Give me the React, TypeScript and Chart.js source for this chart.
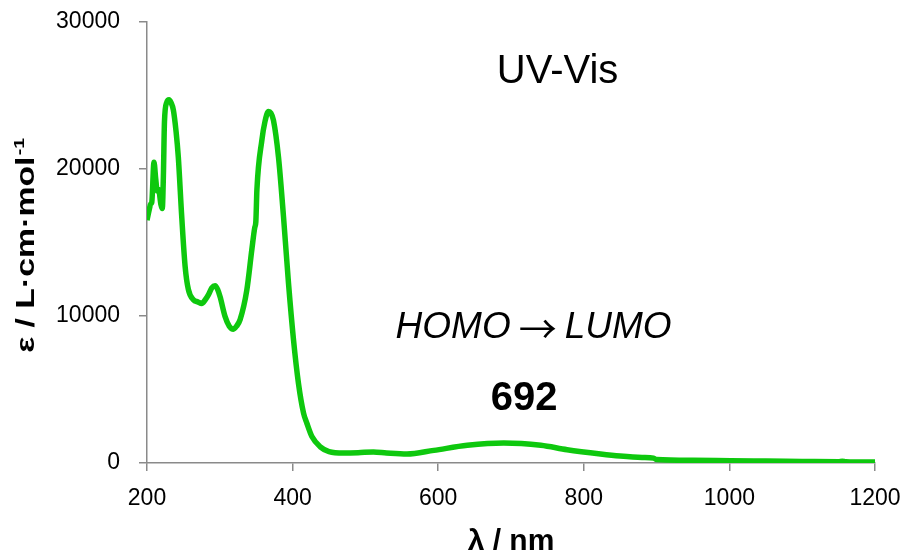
import React, { useEffect, useRef } from "react";
import { Chart, registerables } from "chart.js";

Chart.register(...registerables);

const wavelengths = [
  200, 203, 205, 206.5, 209.6, 212, 214, 216, 219, 221, 222.5, 224, 227, 230.3, 233, 236.2,
  240, 243, 247.7, 252.3, 256.8, 263.7, 270, 275.2, 280, 284.3, 289, 293.5, 297, 300.4,
  307.3, 313, 318.7, 323, 327.9, 337.1, 344, 348, 349.5, 351, 357.8, 362, 366.9, 370, 373.7,
  380.6, 387.5, 394.4, 401.2, 408.1, 415, 419.6, 426.5, 438, 450, 470, 490, 511, 529, 557,
  594, 640, 690, 741, 777, 823, 850, 880, 896, 900, 950, 1002, 1050, 1100, 1150, 1155, 1160, 1200,
];
const epsilon = [
  16500, 17200, 17600, 17700, 20450, 19300, 18500, 18600, 17600, 17300, 19500, 23200, 24500, 24700, 24500, 24000,
  22500, 20800, 16750, 13400, 11800, 11100, 10950, 10850, 11100, 11430, 11900, 12050, 11800, 11300,
  9950, 9300, 9100, 9300, 9750, 11750, 14500, 16000, 16400, 18600, 21950, 23200, 23900, 23800, 23300,
  20800, 16750, 12200, 8400, 5400, 3400, 2700, 1800, 1100, 780, 680, 700, 750, 680, 610,
  860, 1200, 1360, 1200, 900, 610, 470, 370, 330, 230, 180, 150, 130, 110, 90, 120, 90, 60,
];

const xTickLabels = [200, 400, 600, 800, 1000, 1200];
const yTickLabels = [0, 10000, 20000, 30000];

const xTitle = "\u03bb / nm";
const yTitleMain = "\u03b5 / L\u00b7cm\u00b7mol";
const yTitleSup = "-1";

const chartTitle = "UV-Vis";
const chartTitleAt = [764, 25835];
const transitionParts = ["HOMO", "\u2192", "LUMO"];
const transitionAt = [731, 8512];
const peakLabel = "692";
const peakLabelAt = [718, 3620];

const SANS = "'Liberation Sans', Arial, sans-serif";
const GREEN = "#0ec80e";
const AXIS = "#8a8a8a";

export default function App() {
  const ref = useRef<HTMLCanvasElement | null>(null);

  useEffect(() => {
    document.body.style.margin = "0";
    const canvas = ref.current;
    if (!canvas) return;

    const annotations = {
      id: "annotations",
      afterDraw(chart: any) {
        const { ctx, scales, chartArea } = chart;
        const px = (v: number) => scales.x.getPixelForValue(v);
        const py = (v: number) => scales.y.getPixelForValue(v);
        ctx.save();
        ctx.fillStyle = "#000";
        ctx.textBaseline = "alphabetic";

        ctx.textAlign = "center";
        ctx.font = `40px ${SANS}`;
        ctx.fillText(chartTitle, px(chartTitleAt[0]), py(chartTitleAt[1]));

        ctx.font = `bold 40px ${SANS}`;
        ctx.fillText(peakLabel, px(peakLabelAt[0]), py(peakLabelAt[1]));

        ctx.textAlign = "left";
        const italic = `italic 37px ${SANS}`;
        const arrowFont = `38px 'Noto Sans CJK JP', 'DejaVu Sans', sans-serif`;
        const gap = 8;
        ctx.font = italic;
        const w0 = ctx.measureText(transitionParts[0]).width;
        const w2 = ctx.measureText(transitionParts[2]).width;
        ctx.font = arrowFont;
        const w1 = ctx.measureText(transitionParts[1]).width;
        const total = w0 + gap + w1 + gap + w2;
        let x = px(transitionAt[0]) - total / 2;
        const by = py(transitionAt[1]);
        ctx.font = italic;
        ctx.fillText(transitionParts[0], x, by);
        x += w0 + gap;
        ctx.font = arrowFont;
        ctx.fillText(transitionParts[1], x, by + 5);
        x += w1 + gap;
        ctx.font = italic;
        ctx.fillText(transitionParts[2], x, by);

        const cy = (chartArea.top + chartArea.bottom) / 2 + 3;
        ctx.translate(33.5, cy);
        ctx.rotate(-Math.PI / 2);
        const mainFont = `bold 26px ${SANS}`;
        const supFont = `bold 15px ${SANS}`;
        ctx.font = mainFont;
        const m = ctx.measureText(yTitleMain).width;
        ctx.font = supFont;
        const s = ctx.measureText(yTitleSup).width;
        const natural = m + 1 + s;
        ctx.scale(215 / natural, 1);
        ctx.font = mainFont;
        ctx.fillText(yTitleMain, -natural / 2, 0);
        ctx.font = supFont;
        ctx.fillText(yTitleSup, -natural / 2 + m + 1, -10);
        ctx.restore();
      },
    };

    const zeroPad = (s: any) => {
      s.paddingTop = 0;
      s.paddingBottom = 0;
      s.paddingLeft = 0;
      s.paddingRight = 0;
    };

    const chart = new Chart(canvas, {
      type: "line",
      data: {
        datasets: [
          {
            data: wavelengths.map((w, i) => ({ x: w, y: epsilon[i] })),
            borderColor: GREEN,
            borderWidth: 5.5,
            pointRadius: 0,
            fill: false,
            cubicInterpolationMode: "monotone",
          },
        ],
      },
      options: {
        responsive: false,
        animation: false,
        layout: { padding: { top: 21.7, right: 28, left: 0, bottom: 0 } },
        plugins: { legend: { display: false }, tooltip: { enabled: false } },
        scales: {
          x: {
            type: "linear",
            min: 200,
            max: 1200,
            afterBuildTicks: (s: any) => {
              s.ticks = xTickLabels.map((v) => ({ value: v }));
            },
            afterFit: (s: any) => {
              s.height = 94;
              zeroPad(s);
            },
            ticks: {
              color: "#000",
              font: { family: SANS, size: 23 },
              padding: 14,
              maxRotation: 0,
              callback: (v: any) => String(v),
            },
            grid: { drawOnChartArea: false, drawTicks: true, tickLength: 8, color: AXIS, lineWidth: 1.5 },
            border: { display: true, color: AXIS, width: 1.5 },
            title: {
              display: true,
              text: xTitle,
              color: "#000",
              font: { family: SANS, size: 30, weight: "bold", lineHeight: 1 },
              padding: { top: 0, bottom: 0 },
            },
          },
          y: {
            type: "linear",
            min: 0,
            max: 30000,
            afterBuildTicks: (s: any) => {
              s.ticks = yTickLabels.map((v) => ({ value: v }));
            },
            afterFit: (s: any) => {
              s.width = 147;
              zeroPad(s);
            },
            ticks: {
              color: "#000",
              font: { family: SANS, size: 23 },
              padding: 19,
              callback: (v: any) => String(v),
            },
            grid: { drawOnChartArea: false, drawTicks: true, tickLength: 8, color: AXIS, lineWidth: 1.5 },
            border: { display: true, color: AXIS, width: 1.5 },
            title: { display: false },
          },
        },
      },
      plugins: [annotations],
    });

    return () => chart.destroy();
  }, []);

  return (
    <div style={{ width: 903, height: 557 }}>
      <canvas ref={ref} width={903} height={557} style={{ display: "block" }} />
    </div>
  );
}
